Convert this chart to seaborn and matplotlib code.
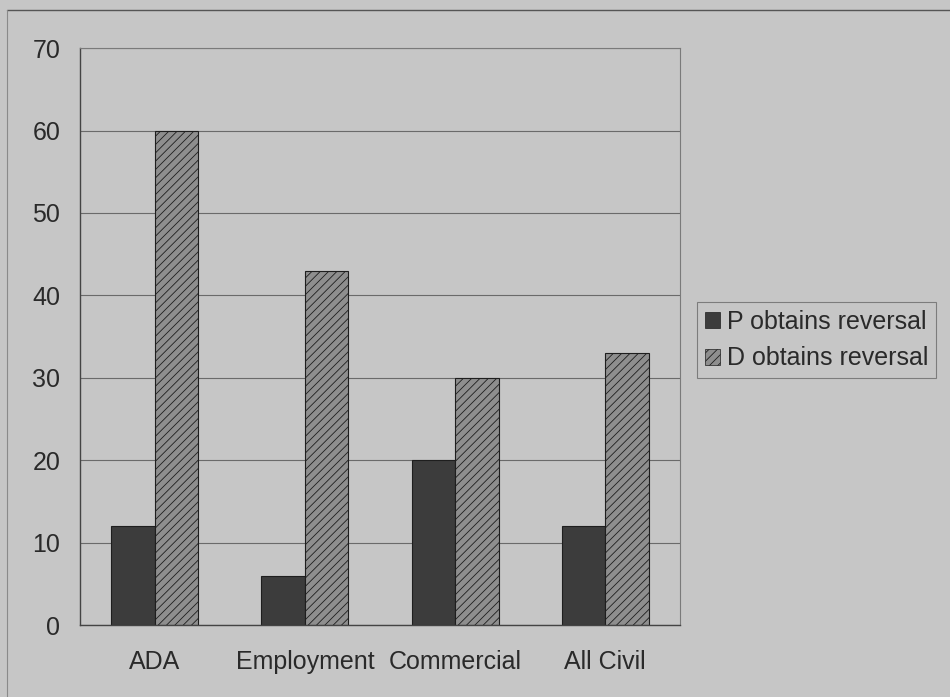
import matplotlib
matplotlib.use("Agg")
import matplotlib.pyplot as plt
import seaborn as sns
import pandas as pd
from matplotlib.patches import Patch
from matplotlib.lines import Line2D

categories = ["ADA", "Employment", "Commercial", "All Civil"]
series_names = ["P obtains reversal", "D obtains reversal"]
p_values = [12, 6, 20, 12]
d_values = [60, 43, 30, 33]
y_ticks = [0, 10, 20, 30, 40, 50, 60, 70]

df = pd.DataFrame({
    "category": categories * 2,
    "series": [series_names[0]] * len(categories) + [series_names[1]] * len(categories),
    "value": p_values + d_values,
})

bg = "#c6c6c6"
sns.set_theme(style="white")
plt.rcParams["font.family"] = ["Liberation Sans", "DejaVu Sans"]
plt.rcParams["hatch.color"] = "#3a3a3a"
plt.rcParams["hatch.linewidth"] = 0.6

fig = plt.figure(figsize=(9.5, 6.97), dpi=100, facecolor=bg)
ax = fig.add_axes([0.084, 0.103, 0.632, 0.828])
ax.set_facecolor(bg)

palette = {series_names[0]: "#3c3c3c", series_names[1]: "#8e8e8e"}
sns.barplot(data=df, x="category", y="value", hue="series", order=categories,
            hue_order=series_names, palette=palette, width=0.58, saturation=1,
            edgecolor="#1e1e1e", linewidth=0.8, legend=False, ax=ax)

n = len(categories)
for i, patch in enumerate(ax.patches):
    if i >= n:
        patch.set_hatch("////")

ax.set_xlim(-0.5, n - 0.5)
ax.set_ylim(0, 70)
ax.set_yticks(y_ticks)
ax.set_yticklabels([str(t) for t in y_ticks])
ax.set_xlabel("")
ax.set_ylabel("")
ax.tick_params(axis="both", labelsize=18, colors="#2a2a2a")
ax.tick_params(axis="y", length=5, width=0.8, direction="out", pad=9, color="#444444")
ax.tick_params(axis="x", length=0, pad=18)

# category boundary ticks below the axis
ax.set_xticks([i + 0.5 for i in range(-1, n)], minor=True)
ax.tick_params(axis="x", which="minor", length=6, width=0.8, direction="out", color="#444444")

ax.yaxis.grid(True, color="#6a6a6a", linewidth=0.8)
ax.set_axisbelow(True)
for side in ["left", "bottom"]:
    ax.spines[side].set_color("#444444")
    ax.spines[side].set_linewidth(1.0)
for side in ["top", "right"]:
    ax.spines[side].set_visible(True)
    ax.spines[side].set_color("#7a7a7a")
    ax.spines[side].set_linewidth(0.8)

handles = [
    Patch(facecolor=palette[series_names[0]], edgecolor="#1e1e1e", linewidth=0.5),
    Patch(facecolor=palette[series_names[1]], edgecolor="#1e1e1e", linewidth=0.5, hatch="////"),
]
leg = fig.legend(handles, series_names, loc="center left",
                 bbox_to_anchor=(0.734, 0.512), fontsize=18, frameon=True,
                 fancybox=False, handlelength=0.6, handleheight=0.6,
                 handletextpad=0.3, borderpad=0.3, labelspacing=0.5,
                 borderaxespad=0)
leg.get_frame().set_facecolor(bg)
leg.get_frame().set_edgecolor("#6a6a6a")
leg.get_frame().set_linewidth(0.8)
for t in leg.get_texts():
    t.set_color("#2a2a2a")

# outer chart-area border along top and left
fig.add_artist(Line2D([0.007, 1.0], [0.986, 0.986], color="#555555", linewidth=1.0))
fig.add_artist(Line2D([0.007, 0.007], [0.0, 0.986], color="#8a8a8a", linewidth=0.8))

fig.savefig("out.png", dpi=100, facecolor=bg)
